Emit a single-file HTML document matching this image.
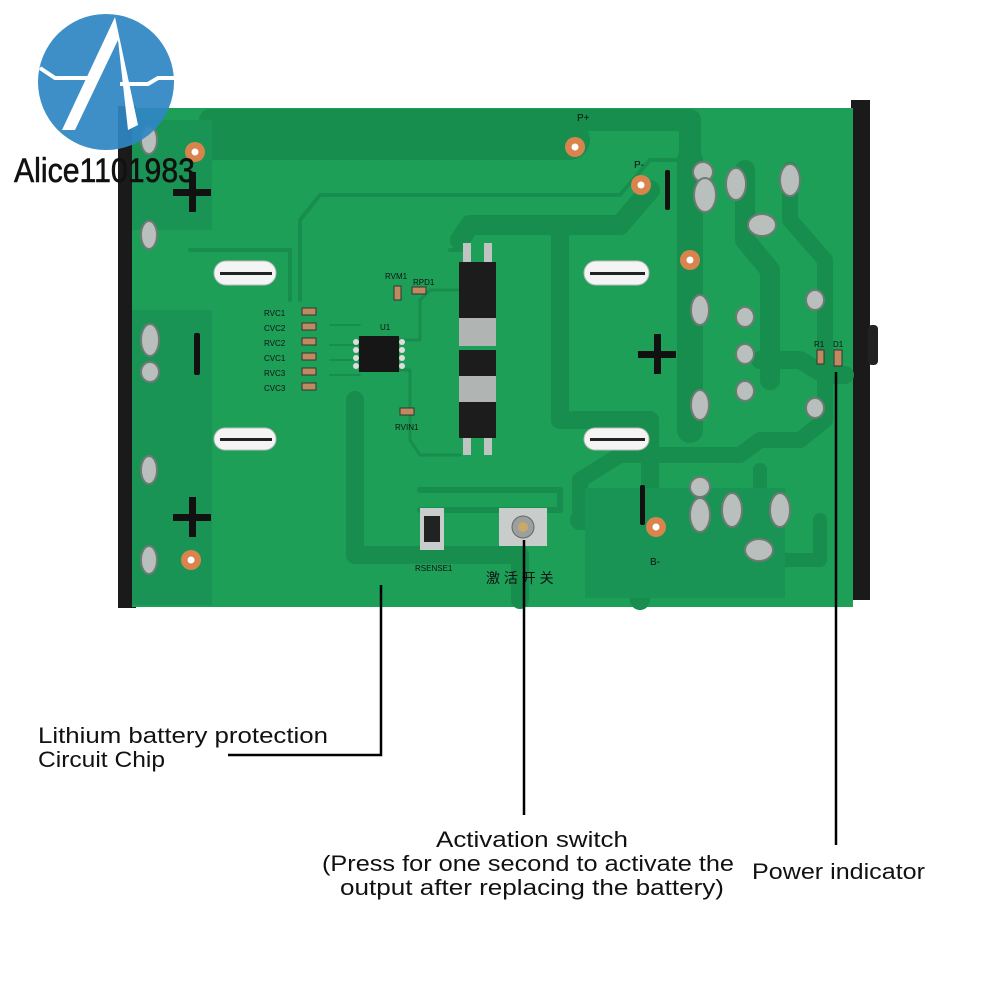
<!DOCTYPE html>
<html><head><meta charset="utf-8"><style>
html,body{margin:0;padding:0;background:#fff;width:1000px;height:1000px;overflow:hidden}
svg{display:block}
</style></head><body>
<svg width="1000" height="1000" viewBox="0 0 1000 1000" xmlns="http://www.w3.org/2000/svg">
<rect x="118" y="106" width="18" height="502" fill="#1a1a1a"/>
<rect x="851" y="100" width="19" height="500" fill="#1a1a1a"/>
<rect x="868" y="325" width="10" height="40" rx="4" fill="#222"/>
<rect x="132" y="108" width="721" height="499" fill="#1d9f58"/>
<g fill="none" stroke="#178e4d" stroke-linecap="round" stroke-linejoin="round">
<path d="M210 120 H690 V170 M210 120 V150" stroke-width="22"/>
<path d="M210 140 H570" stroke-width="40"/>
<path d="M300 300 V220 L320 195 H620 L650 160 H690" stroke-width="4"/>
<path d="M290 250 V300 M190 250 H290" stroke-width="4"/>
<path d="M460 240 L470 225 H620 L650 190" stroke-width="20"/>
<path d="M450 250 H465 V300" stroke-width="4"/>
<path d="M560 230 V420 H650 V510" stroke-width="18"/>
<path d="M690 160 V430" stroke-width="26"/>
<path d="M745 170 V240 L770 270 V380" stroke-width="20"/>
<path d="M790 170 V220 L825 260 V420 L800 440 H760 L740 455 H620 L580 480 V510" stroke-width="16"/>
<path d="M760 360 H800 L825 375 H845" stroke-width="18"/>
<path d="M420 490 H560 V510 H420" stroke-width="6"/>
<path d="M355 400 V555 H520 V600" stroke-width="18"/>
<path d="M580 520 H640 V600" stroke-width="20"/>
<path d="M760 470 V560 H820 V520" stroke-width="14"/>
<path d="M330 325 H360 M330 345 H360 M330 360 H360 M330 375 H360" stroke-width="2"/>
<path d="M400 340 H420 V300 L430 290 H460 M400 370 H410 V440 L420 455 H460" stroke-width="3"/>
</g>
<rect x="132" y="310" width="80" height="295" fill="#1a9454"/>
<rect x="132" y="120" width="80" height="110" fill="#1a9454"/>
<rect x="585" y="488" width="200" height="110" fill="#1a9454"/>
<g fill="#f4f4f4" stroke="#bbb" stroke-width="1">
<rect x="214" y="261" width="62" height="24" rx="12"/>
<rect x="584" y="261" width="65" height="24" rx="12"/>
<rect x="214" y="428" width="62" height="22" rx="11"/>
<rect x="584" y="428" width="65" height="22" rx="11"/>
</g>
<g fill="#222"><rect x="220" y="272" width="52" height="3"/><rect x="590" y="272" width="55" height="3"/><rect x="220" y="438" width="52" height="3"/><rect x="590" y="438" width="55" height="3"/></g>
<g fill="#111">
<rect x="173" y="189" width="38" height="7"/><rect x="189" y="172" width="7" height="40"/>
<rect x="173" y="514" width="38" height="7"/><rect x="189" y="497" width="7" height="40"/>
<rect x="638" y="351" width="38" height="7"/><rect x="654" y="334" width="7" height="40"/>
<rect x="194" y="333" width="6" height="42" rx="2"/>
<rect x="665" y="170" width="5" height="40" rx="2"/>
<rect x="640" y="485" width="5" height="40" rx="2"/>
</g>
<g fill="#d8844c"><circle cx="195" cy="152" r="10"/><circle cx="575" cy="147" r="10"/><circle cx="641" cy="185" r="10"/><circle cx="690" cy="260" r="10"/><circle cx="656" cy="527" r="10"/><circle cx="191" cy="560" r="10"/></g>
<g fill="#fff"><circle cx="195" cy="152" r="3.5"/><circle cx="575" cy="147" r="3.5"/><circle cx="641" cy="185" r="3.5"/><circle cx="690" cy="260" r="3.5"/><circle cx="656" cy="527" r="3.5"/><circle cx="191" cy="560" r="3.5"/></g>
<g fill="#b9bfbd" stroke="#6f7a74" stroke-width="2">
<ellipse cx="149" cy="140" rx="8" ry="14"/><ellipse cx="149" cy="235" rx="8" ry="14"/>
<ellipse cx="150" cy="340" rx="9" ry="16"/><ellipse cx="150" cy="372" rx="9" ry="10"/>
<ellipse cx="149" cy="470" rx="8" ry="14"/><ellipse cx="149" cy="560" rx="8" ry="14"/>
<ellipse cx="703" cy="172" rx="10" ry="10"/><ellipse cx="705" cy="195" rx="11" ry="17"/>
<ellipse cx="736" cy="184" rx="10" ry="16"/><ellipse cx="790" cy="180" rx="10" ry="16"/>
<ellipse cx="762" cy="225" rx="14" ry="11"/><ellipse cx="700" cy="310" rx="9" ry="15"/>
<ellipse cx="745" cy="317" rx="9" ry="10"/><ellipse cx="815" cy="300" rx="9" ry="10"/>
<ellipse cx="745" cy="354" rx="9" ry="10"/><ellipse cx="745" cy="391" rx="9" ry="10"/>
<ellipse cx="700" cy="405" rx="9" ry="15"/><ellipse cx="815" cy="408" rx="9" ry="10"/>
<ellipse cx="700" cy="487" rx="10" ry="10"/><ellipse cx="700" cy="515" rx="10" ry="17"/>
<ellipse cx="732" cy="510" rx="10" ry="17"/><ellipse cx="780" cy="510" rx="10" ry="17"/>
<ellipse cx="759" cy="550" rx="14" ry="11"/>
</g>
<g fill="#bfc3c2"><rect x="463" y="243" width="8" height="22"/><rect x="484" y="243" width="8" height="22"/><rect x="463" y="433" width="8" height="22"/><rect x="484" y="433" width="8" height="22"/></g>
<rect x="459" y="262" width="37" height="58" fill="#1c1c1c"/>
<rect x="459" y="318" width="37" height="28" fill="#b0b4b2"/>
<rect x="459" y="376" width="37" height="28" fill="#b0b4b2"/>
<rect x="459" y="402" width="37" height="36" fill="#1c1c1c"/>
<rect x="459" y="350" width="37" height="26" fill="#1c1c1c"/>
<rect x="359" y="336" width="40" height="36" fill="#161616"/>
<g fill="#ddd"><circle cx="356" cy="342" r="3"/><circle cx="356" cy="350" r="3"/><circle cx="356" cy="358" r="3"/><circle cx="356" cy="366" r="3"/><circle cx="402" cy="342" r="3"/><circle cx="402" cy="350" r="3"/><circle cx="402" cy="358" r="3"/><circle cx="402" cy="366" r="3"/></g>
<g fill="#c08a60" stroke="#333" stroke-width="1">
<rect x="302" y="308" width="14" height="7"/><rect x="302" y="323" width="14" height="7"/><rect x="302" y="338" width="14" height="7"/><rect x="302" y="353" width="14" height="7"/><rect x="302" y="368" width="14" height="7"/><rect x="302" y="383" width="14" height="7"/>
<rect x="394" y="286" width="7" height="14"/><rect x="412" y="287" width="14" height="7"/><rect x="400" y="408" width="14" height="7"/>
<rect x="817" y="350" width="7" height="14"/><rect x="834" y="350" width="8" height="16"/>
</g>
<g font-family="Liberation Sans, sans-serif" font-size="8" fill="#111">
<text x="264" y="316">RVC1</text><text x="264" y="331">CVC2</text><text x="264" y="346">RVC2</text><text x="264" y="361">CVC1</text><text x="264" y="376">RVC3</text><text x="264" y="391">CVC3</text>
<text x="385" y="279">RVM1</text><text x="413" y="285">RPD1</text><text x="395" y="430">RVIN1</text><text x="380" y="330">U1</text>
<text x="577" y="121" font-size="10">P+</text><text x="634" y="168" font-size="10">P-</text><text x="650" y="565" font-size="10">B-</text>
<text x="415" y="571">RSENSE1</text><text x="814" y="347">R1</text><text x="833" y="347">D1</text>
</g>
<rect x="420" y="508" width="24" height="42" fill="#c8ccca"/><rect x="424" y="516" width="16" height="26" fill="#222"/>
<rect x="499" y="508" width="48" height="38" fill="#c8ccca"/><circle cx="523" cy="527" r="11" fill="#9aa09e" stroke="#666"/><circle cx="523" cy="527" r="5" fill="#c9a86a"/>
<text x="486" y="583" font-family="Liberation Sans, 'Noto Sans CJK SC', sans-serif" font-size="14" fill="#111">激 活 开 关</text>
<circle cx="106" cy="82" r="68" fill="#2f86c4" opacity="0.93"/>
<path d="M115 17 L62 130 L75 130 L118 40 L128 130 L138 125 Z" fill="#fff"/>
<path d="M40 68 L55 78 H95 M120 84 H148 L158 78 H175" stroke="#fff" stroke-width="4" fill="none"/>
<text x="14" y="182" font-family="Liberation Sans, sans-serif" font-size="34" fill="#111" stroke="#111" stroke-width="0.6" textLength="181" lengthAdjust="spacingAndGlyphs">Alice1101983</text>
<g stroke="#000" stroke-width="2.5" fill="none">
<path d="M381 585 V755 H228"/>
<path d="M524 540 V815"/>
<path d="M836 372 V845"/>
</g>
<g font-family="Liberation Sans, sans-serif" font-size="22" fill="#111" lengthAdjust="spacingAndGlyphs">
<text x="38" y="743" textLength="290" lengthAdjust="spacingAndGlyphs">Lithium battery protection</text>
<text x="38" y="767" textLength="127" lengthAdjust="spacingAndGlyphs">Circuit Chip</text>
<text x="436" y="847" textLength="192" lengthAdjust="spacingAndGlyphs">Activation switch</text>
<text x="322" y="871" textLength="412" lengthAdjust="spacingAndGlyphs">(Press for one second to activate the</text>
<text x="340" y="895" textLength="384" lengthAdjust="spacingAndGlyphs">output after replacing the battery)</text>
<text x="752" y="879" textLength="173" lengthAdjust="spacingAndGlyphs">Power indicator</text>
</g>
</svg>
</body></html>
